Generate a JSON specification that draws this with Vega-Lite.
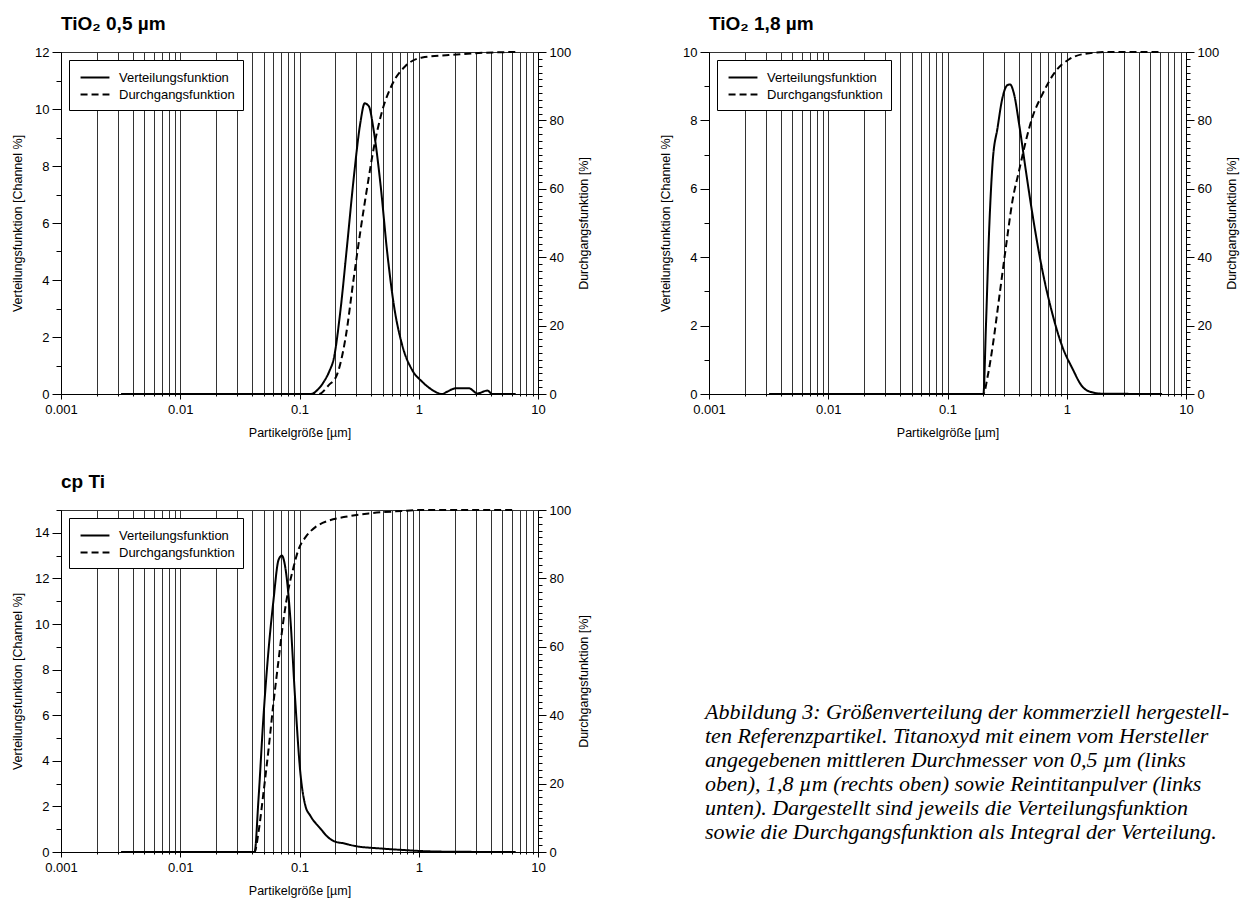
{
  "$schema": "https://vega.github.io/schema/vega-lite/v6.json",
  "padding": {"left": 11, "top": 14, "right": 5, "bottom": 5},
  "config": {
    "font": "Liberation Sans",
    "view": {"stroke": "#333", "strokeWidth": 1},
    "axis": {"labelFontSize": 13, "titleFontSize": 12.5, "titleFontWeight": "normal", "labelColor": "black", "titleColor": "black", "domainColor": "black", "tickColor": "black", "gridColor": "#333", "gridOpacity": 1, "gridWidth": 1, "labelFont": "Liberation Sans", "titleFont": "Liberation Sans"},
    "legend": {"strokeColor": "black", "fillColor": "white", "padding": 8, "labelFontSize": 13, "labelFont": "Liberation Sans", "labelColor": "black", "symbolType": "M-0.7,0H2.7", "symbolSize": 289, "symbolStrokeWidth": 2, "symbolStrokeColor": "black", "rowPadding": 0, "labelOffset": 23, "cornerRadius": 0, "offset": 8, "orient": "top-left"},
    "title": {"anchor": "start", "fontSize": 19, "fontWeight": "bold", "font": "Liberation Sans", "offset": 12, "color": "black", "frame": "group"}
  },
  "datasets": {
    "curves": [
      {"p": "A", "s": "Verteilungsfunktion", "x": 0.0032, "y": 0},
      {"p": "A", "s": "Verteilungsfunktion", "x": 0.125, "y": 0},
      {"p": "A", "s": "Verteilungsfunktion", "x": 0.142, "y": 0.15},
      {"p": "A", "s": "Verteilungsfunktion", "x": 0.16, "y": 0.43},
      {"p": "A", "s": "Verteilungsfunktion", "x": 0.178, "y": 0.8},
      {"p": "A", "s": "Verteilungsfunktion", "x": 0.194, "y": 1.25},
      {"p": "A", "s": "Verteilungsfunktion", "x": 0.22, "y": 2.9},
      {"p": "A", "s": "Verteilungsfunktion", "x": 0.251, "y": 5.24},
      {"p": "A", "s": "Verteilungsfunktion", "x": 0.285, "y": 7.58},
      {"p": "A", "s": "Verteilungsfunktion", "x": 0.324, "y": 9.52},
      {"p": "A", "s": "Verteilungsfunktion", "x": 0.352, "y": 10.2},
      {"p": "A", "s": "Verteilungsfunktion", "x": 0.381, "y": 10.1},
      {"p": "A", "s": "Verteilungsfunktion", "x": 0.42, "y": 9.22},
      {"p": "A", "s": "Verteilungsfunktion", "x": 0.478, "y": 7.35},
      {"p": "A", "s": "Verteilungsfunktion", "x": 0.543, "y": 5.0},
      {"p": "A", "s": "Verteilungsfunktion", "x": 0.618, "y": 3.13},
      {"p": "A", "s": "Verteilungsfunktion", "x": 0.726, "y": 1.72},
      {"p": "A", "s": "Verteilungsfunktion", "x": 0.881, "y": 0.84},
      {"p": "A", "s": "Verteilungsfunktion", "x": 1.069, "y": 0.43},
      {"p": "A", "s": "Verteilungsfunktion", "x": 1.3, "y": 0.14},
      {"p": "A", "s": "Verteilungsfunktion", "x": 1.57, "y": 0},
      {"p": "A", "s": "Verteilungsfunktion", "x": 1.73, "y": 0.08},
      {"p": "A", "s": "Verteilungsfunktion", "x": 2.04, "y": 0.2},
      {"p": "A", "s": "Verteilungsfunktion", "x": 2.64, "y": 0.2},
      {"p": "A", "s": "Verteilungsfunktion", "x": 3.1, "y": 0.02},
      {"p": "A", "s": "Verteilungsfunktion", "x": 3.76, "y": 0.12},
      {"p": "A", "s": "Verteilungsfunktion", "x": 4.14, "y": 0},
      {"p": "A", "s": "Verteilungsfunktion", "x": 6.5, "y": 0},
      {"p": "A", "s": "Durchgangsfunktion", "x": 0.0032, "y": 0},
      {"p": "A", "s": "Durchgangsfunktion", "x": 0.145, "y": 0},
      {"p": "A", "s": "Durchgangsfunktion", "x": 0.176, "y": 2.6},
      {"p": "A", "s": "Durchgangsfunktion", "x": 0.206, "y": 5.6},
      {"p": "A", "s": "Durchgangsfunktion", "x": 0.243, "y": 16.3},
      {"p": "A", "s": "Durchgangsfunktion", "x": 0.285, "y": 33.9},
      {"p": "A", "s": "Durchgangsfunktion", "x": 0.324, "y": 47.6},
      {"p": "A", "s": "Durchgangsfunktion", "x": 0.369, "y": 60.3},
      {"p": "A", "s": "Durchgangsfunktion", "x": 0.42, "y": 72},
      {"p": "A", "s": "Durchgangsfunktion", "x": 0.493, "y": 82.7},
      {"p": "A", "s": "Durchgangsfunktion", "x": 0.598, "y": 90.5},
      {"p": "A", "s": "Durchgangsfunktion", "x": 0.774, "y": 95.9},
      {"p": "A", "s": "Durchgangsfunktion", "x": 1.07, "y": 98.4},
      {"p": "A", "s": "Durchgangsfunktion", "x": 1.79, "y": 99.1},
      {"p": "A", "s": "Durchgangsfunktion", "x": 3.64, "y": 99.8},
      {"p": "A", "s": "Durchgangsfunktion", "x": 6.5, "y": 100},
      {"p": "B", "s": "Verteilungsfunktion", "x": 0.0032, "y": 0},
      {"p": "B", "s": "Verteilungsfunktion", "x": 0.2, "y": 0},
      {"p": "B", "s": "Verteilungsfunktion", "x": 0.21, "y": 1.97},
      {"p": "B", "s": "Verteilungsfunktion", "x": 0.224, "y": 4.88},
      {"p": "B", "s": "Verteilungsfunktion", "x": 0.239, "y": 6.77},
      {"p": "B", "s": "Verteilungsfunktion", "x": 0.263, "y": 7.79},
      {"p": "B", "s": "Verteilungsfunktion", "x": 0.289, "y": 8.66},
      {"p": "B", "s": "Verteilungsfunktion", "x": 0.318, "y": 9.03},
      {"p": "B", "s": "Verteilungsfunktion", "x": 0.335, "y": 9.05},
      {"p": "B", "s": "Verteilungsfunktion", "x": 0.362, "y": 8.76},
      {"p": "B", "s": "Verteilungsfunktion", "x": 0.399, "y": 7.88},
      {"p": "B", "s": "Verteilungsfunktion", "x": 0.454, "y": 6.53},
      {"p": "B", "s": "Verteilungsfunktion", "x": 0.515, "y": 5.27},
      {"p": "B", "s": "Verteilungsfunktion", "x": 0.624, "y": 3.62},
      {"p": "B", "s": "Verteilungsfunktion", "x": 0.756, "y": 2.36},
      {"p": "B", "s": "Verteilungsfunktion", "x": 0.917, "y": 1.39},
      {"p": "B", "s": "Verteilungsfunktion", "x": 1.11, "y": 0.76},
      {"p": "B", "s": "Verteilungsfunktion", "x": 1.35, "y": 0.22},
      {"p": "B", "s": "Verteilungsfunktion", "x": 1.63, "y": 0.05},
      {"p": "B", "s": "Verteilungsfunktion", "x": 1.98, "y": 0.01},
      {"p": "B", "s": "Verteilungsfunktion", "x": 6.3, "y": 0},
      {"p": "B", "s": "Durchgangsfunktion", "x": 0.0032, "y": 0},
      {"p": "B", "s": "Durchgangsfunktion", "x": 0.2, "y": 0},
      {"p": "B", "s": "Durchgangsfunktion", "x": 0.217, "y": 5.1},
      {"p": "B", "s": "Durchgangsfunktion", "x": 0.239, "y": 13.9},
      {"p": "B", "s": "Durchgangsfunktion", "x": 0.272, "y": 28.5},
      {"p": "B", "s": "Durchgangsfunktion", "x": 0.309, "y": 43},
      {"p": "B", "s": "Durchgangsfunktion", "x": 0.351, "y": 56.6},
      {"p": "B", "s": "Durchgangsfunktion", "x": 0.399, "y": 65.4},
      {"p": "B", "s": "Durchgangsfunktion", "x": 0.454, "y": 74},
      {"p": "B", "s": "Durchgangsfunktion", "x": 0.515, "y": 80.9},
      {"p": "B", "s": "Durchgangsfunktion", "x": 0.624, "y": 87.6},
      {"p": "B", "s": "Durchgangsfunktion", "x": 0.807, "y": 94.4},
      {"p": "B", "s": "Durchgangsfunktion", "x": 1.04, "y": 97.8},
      {"p": "B", "s": "Durchgangsfunktion", "x": 1.44, "y": 99.5},
      {"p": "B", "s": "Durchgangsfunktion", "x": 2.3, "y": 100},
      {"p": "B", "s": "Durchgangsfunktion", "x": 6.3, "y": 100},
      {"p": "C", "s": "Verteilungsfunktion", "x": 0.0032, "y": 0},
      {"p": "C", "s": "Verteilungsfunktion", "x": 0.042, "y": 0},
      {"p": "C", "s": "Verteilungsfunktion", "x": 0.0453, "y": 2.32},
      {"p": "C", "s": "Verteilungsfunktion", "x": 0.0499, "y": 5.96},
      {"p": "C", "s": "Verteilungsfunktion", "x": 0.055, "y": 8.86},
      {"p": "C", "s": "Verteilungsfunktion", "x": 0.0605, "y": 11.04},
      {"p": "C", "s": "Verteilungsfunktion", "x": 0.0667, "y": 12.81},
      {"p": "C", "s": "Verteilungsfunktion", "x": 0.0711, "y": 13.0},
      {"p": "C", "s": "Verteilungsfunktion", "x": 0.0759, "y": 12.5},
      {"p": "C", "s": "Verteilungsfunktion", "x": 0.0836, "y": 10.32},
      {"p": "C", "s": "Verteilungsfunktion", "x": 0.092, "y": 6.69},
      {"p": "C", "s": "Verteilungsfunktion", "x": 0.1016, "y": 3.49},
      {"p": "C", "s": "Verteilungsfunktion", "x": 0.112, "y": 2.03},
      {"p": "C", "s": "Verteilungsfunktion", "x": 0.123, "y": 1.6},
      {"p": "C", "s": "Verteilungsfunktion", "x": 0.15, "y": 1.02},
      {"p": "C", "s": "Verteilungsfunktion", "x": 0.176, "y": 0.62},
      {"p": "C", "s": "Verteilungsfunktion", "x": 0.2, "y": 0.45},
      {"p": "C", "s": "Verteilungsfunktion", "x": 0.235, "y": 0.38},
      {"p": "C", "s": "Verteilungsfunktion", "x": 0.294, "y": 0.26},
      {"p": "C", "s": "Verteilungsfunktion", "x": 0.462, "y": 0.16},
      {"p": "C", "s": "Verteilungsfunktion", "x": 0.726, "y": 0.09},
      {"p": "C", "s": "Verteilungsfunktion", "x": 1.07, "y": 0.04},
      {"p": "C", "s": "Verteilungsfunktion", "x": 2.0, "y": 0.01},
      {"p": "C", "s": "Verteilungsfunktion", "x": 6.5, "y": 0},
      {"p": "C", "s": "Durchgangsfunktion", "x": 0.0032, "y": 0},
      {"p": "C", "s": "Durchgangsfunktion", "x": 0.042, "y": 0},
      {"p": "C", "s": "Durchgangsfunktion", "x": 0.0453, "y": 5.8},
      {"p": "C", "s": "Durchgangsfunktion", "x": 0.0499, "y": 17.4},
      {"p": "C", "s": "Durchgangsfunktion", "x": 0.055, "y": 30},
      {"p": "C", "s": "Durchgangsfunktion", "x": 0.0605, "y": 43.6},
      {"p": "C", "s": "Durchgangsfunktion", "x": 0.0667, "y": 56},
      {"p": "C", "s": "Durchgangsfunktion", "x": 0.0735, "y": 68},
      {"p": "C", "s": "Durchgangsfunktion", "x": 0.081, "y": 77},
      {"p": "C", "s": "Durchgangsfunktion", "x": 0.0892, "y": 83.3},
      {"p": "C", "s": "Durchgangsfunktion", "x": 0.0975, "y": 88.2},
      {"p": "C", "s": "Durchgangsfunktion", "x": 0.112, "y": 92},
      {"p": "C", "s": "Durchgangsfunktion", "x": 0.136, "y": 95},
      {"p": "C", "s": "Durchgangsfunktion", "x": 0.176, "y": 96.9},
      {"p": "C", "s": "Durchgangsfunktion", "x": 0.243, "y": 98},
      {"p": "C", "s": "Durchgangsfunktion", "x": 0.381, "y": 99},
      {"p": "C", "s": "Durchgangsfunktion", "x": 0.638, "y": 99.6},
      {"p": "C", "s": "Durchgangsfunktion", "x": 1.07, "y": 100},
      {"p": "C", "s": "Durchgangsfunktion", "x": 6.5, "y": 100}
    ]
  },
  "columns": 2,
  "spacing": {"row": 33, "column": 68},
  "resolve": {"scale": {"strokeDash": "independent"}, "legend": {"strokeDash": "independent"}},
  "concat": [
    {
      "title": {"text": "TiO₂ 0,5 µm"},
      "width": 477, "height": 342,
      "data": {"name": "curves"},
      "transform": [{"filter": "datum.p == 'A'"}],
      "encoding": {
        "x": {"field": "x", "type": "quantitative", "scale": {"type": "log", "domain": [0.001, 10], "nice": false},
          "axis": {"title": "Partikelgröße [µm]", "grid": true, "format": "~g", "labelOverlap": false, "labelFlush": false, "labelPadding": 4, "titlePadding": 10,
            "values": [0.001,0.002,0.003,0.004,0.005,0.006,0.007,0.008,0.009,0.01,0.02,0.03,0.04,0.05,0.06,0.07,0.08,0.09,0.1,0.2,0.3,0.4,0.5,0.6,0.7,0.8,0.9,1,2,3,4,5,6,7,8,9,10],
            "labelExpr": "indexof([0.001,0.01,0.1,1,10], datum.value) >= 0 ? datum.label : ''",
            "tickSize": {"condition": {"test": "indexof([0.001,0.01,0.1,1,10], datum.value) >= 0", "value": 5}, "value": 2}}},
        "strokeDash": {"field": "s", "type": "nominal", "scale": {"domain": ["Verteilungsfunktion", "Durchgangsfunktion"], "range": [[1, 0], [7, 4]]}, "legend": {"title": null}}
      },
      "layer": [
        {
          "transform": [{"filter": "datum.s == 'Verteilungsfunktion'"}],
          "mark": {"type": "line", "color": "black", "strokeWidth": 2, "interpolate": "monotone"},
          "encoding": {"y": {"field": "y", "type": "quantitative", "scale": {"domain": [0, 12], "nice": false},
            "axis": {"title": "Verteilungsfunktion [Channel %]", "orient": "left", "grid": false, "values": [0,1,2,3,4,5,6,7,8,9,10,11,12], "labelPadding": 3, "titlePadding": 10,
              "labelExpr": "datum.value % 2 == 0 ? datum.label : ''",
              "tickSize": {"condition": {"test": "datum.value % 2 == 0", "value": 9}, "value": 5}}}}
        },
        {
          "transform": [{"filter": "datum.s == 'Durchgangsfunktion'"}],
          "mark": {"type": "line", "color": "black", "strokeWidth": 2, "interpolate": "monotone"},
          "encoding": {"y": {"field": "y", "type": "quantitative", "scale": {"domain": [0, 100], "nice": false},
            "axis": {"title": "Durchgangsfunktion [%]", "orient": "right", "titleAngle": 270, "grid": false, "values": [0,2,4,6,8,10,12,14,16,18,20,22,24,26,28,30,32,34,36,38,40,42,44,46,48,50,52,54,56,58,60,62,64,66,68,70,72,74,76,78,80,82,84,86,88,90,92,94,96,98,100], "labelPadding": 3, "titlePadding": 20,
              "labelExpr": "datum.value % 20 == 0 ? datum.label : ''",
              "tickSize": {"condition": {"test": "datum.value % 20 == 0", "value": 8}, "value": 4}}}}
        }
      ],
      "resolve": {"scale": {"y": "independent"}}
    },
    {
      "title": {"text": "TiO₂ 1,8 µm"},
      "width": 477, "height": 342,
      "data": {"name": "curves"},
      "transform": [{"filter": "datum.p == 'B'"}],
      "encoding": {
        "x": {"field": "x", "type": "quantitative", "scale": {"type": "log", "domain": [0.001, 10], "nice": false},
          "axis": {"title": "Partikelgröße [µm]", "grid": true, "format": "~g", "labelOverlap": false, "labelFlush": false, "labelPadding": 4, "titlePadding": 10,
            "values": [0.001,0.002,0.003,0.004,0.005,0.006,0.007,0.008,0.009,0.01,0.02,0.03,0.04,0.05,0.06,0.07,0.08,0.09,0.1,0.2,0.3,0.4,0.5,0.6,0.7,0.8,0.9,1,2,3,4,5,6,7,8,9,10],
            "labelExpr": "indexof([0.001,0.01,0.1,1,10], datum.value) >= 0 ? datum.label : ''",
            "tickSize": {"condition": {"test": "indexof([0.001,0.01,0.1,1,10], datum.value) >= 0", "value": 5}, "value": 2}}},
        "strokeDash": {"field": "s", "type": "nominal", "scale": {"domain": ["Verteilungsfunktion", "Durchgangsfunktion"], "range": [[1, 0], [7, 4]]}, "legend": {"title": null}}
      },
      "layer": [
        {
          "transform": [{"filter": "datum.s == 'Verteilungsfunktion'"}],
          "mark": {"type": "line", "color": "black", "strokeWidth": 2, "interpolate": "monotone"},
          "encoding": {"y": {"field": "y", "type": "quantitative", "scale": {"domain": [0, 10], "nice": false},
            "axis": {"title": "Verteilungsfunktion [Channel %]", "orient": "left", "grid": false, "values": [0,1,2,3,4,5,6,7,8,9,10], "labelPadding": 3, "titlePadding": 10,
              "labelExpr": "datum.value % 2 == 0 ? datum.label : ''",
              "tickSize": {"condition": {"test": "datum.value % 2 == 0", "value": 9}, "value": 5}}}}
        },
        {
          "transform": [{"filter": "datum.s == 'Durchgangsfunktion'"}],
          "mark": {"type": "line", "color": "black", "strokeWidth": 2, "interpolate": "monotone"},
          "encoding": {"y": {"field": "y", "type": "quantitative", "scale": {"domain": [0, 100], "nice": false},
            "axis": {"title": "Durchgangsfunktion [%]", "orient": "right", "titleAngle": 270, "grid": false, "values": [0,2,4,6,8,10,12,14,16,18,20,22,24,26,28,30,32,34,36,38,40,42,44,46,48,50,52,54,56,58,60,62,64,66,68,70,72,74,76,78,80,82,84,86,88,90,92,94,96,98,100], "labelPadding": 3, "titlePadding": 20,
              "labelExpr": "datum.value % 20 == 0 ? datum.label : ''",
              "tickSize": {"condition": {"test": "datum.value % 20 == 0", "value": 8}, "value": 4}}}}
        }
      ],
      "resolve": {"scale": {"y": "independent"}}
    },
    {
      "title": {"text": "cp Ti"},
      "width": 477, "height": 342,
      "data": {"name": "curves"},
      "transform": [{"filter": "datum.p == 'C'"}],
      "encoding": {
        "x": {"field": "x", "type": "quantitative", "scale": {"type": "log", "domain": [0.001, 10], "nice": false},
          "axis": {"title": "Partikelgröße [µm]", "grid": true, "format": "~g", "labelOverlap": false, "labelFlush": false, "labelPadding": 4, "titlePadding": 10,
            "values": [0.001,0.002,0.003,0.004,0.005,0.006,0.007,0.008,0.009,0.01,0.02,0.03,0.04,0.05,0.06,0.07,0.08,0.09,0.1,0.2,0.3,0.4,0.5,0.6,0.7,0.8,0.9,1,2,3,4,5,6,7,8,9,10],
            "labelExpr": "indexof([0.001,0.01,0.1,1,10], datum.value) >= 0 ? datum.label : ''",
            "tickSize": {"condition": {"test": "indexof([0.001,0.01,0.1,1,10], datum.value) >= 0", "value": 5}, "value": 2}}},
        "strokeDash": {"field": "s", "type": "nominal", "scale": {"domain": ["Verteilungsfunktion", "Durchgangsfunktion"], "range": [[1, 0], [7, 4]]}, "legend": {"title": null}}
      },
      "layer": [
        {
          "transform": [{"filter": "datum.s == 'Verteilungsfunktion'"}],
          "mark": {"type": "line", "color": "black", "strokeWidth": 2, "interpolate": "monotone"},
          "encoding": {"y": {"field": "y", "type": "quantitative", "scale": {"domain": [0, 15], "nice": false},
            "axis": {"title": "Verteilungsfunktion [Channel %]", "orient": "left", "grid": false, "values": [0,1,2,3,4,5,6,7,8,9,10,11,12,13,14,15], "labelPadding": 3, "titlePadding": 10,
              "labelExpr": "datum.value % 2 == 0 ? datum.label : ''",
              "tickSize": {"condition": {"test": "datum.value % 2 == 0", "value": 9}, "value": 5}}}}
        },
        {
          "transform": [{"filter": "datum.s == 'Durchgangsfunktion'"}],
          "mark": {"type": "line", "color": "black", "strokeWidth": 2, "interpolate": "monotone"},
          "encoding": {"y": {"field": "y", "type": "quantitative", "scale": {"domain": [0, 100], "nice": false},
            "axis": {"title": "Durchgangsfunktion [%]", "orient": "right", "titleAngle": 270, "grid": false, "values": [0,2,4,6,8,10,12,14,16,18,20,22,24,26,28,30,32,34,36,38,40,42,44,46,48,50,52,54,56,58,60,62,64,66,68,70,72,74,76,78,80,82,84,86,88,90,92,94,96,98,100], "labelPadding": 3, "titlePadding": 20,
              "labelExpr": "datum.value % 20 == 0 ? datum.label : ''",
              "tickSize": {"condition": {"test": "datum.value % 20 == 0", "value": 8}, "value": 4}}}}
        }
      ],
      "resolve": {"scale": {"y": "independent"}}
    },
    {
      "width": 540, "height": 342,
      "view": {"stroke": null},
      "data": {"values": [
        {"line": 1, "text": "Abbildung 3: Größenverteilung der kommerziell hergestell-"},
        {"line": 2, "text": "ten Referenzpartikel. Titanoxyd mit einem vom Hersteller"},
        {"line": 3, "text": "angegebenen mittleren Durchmesser von 0,5 µm (links"},
        {"line": 4, "text": "oben), 1,8 µm (rechts oben) sowie Reintitanpulver (links"},
        {"line": 5, "text": "unten). Dargestellt sind jeweils die Verteilungsfunktion"},
        {"line": 6, "text": "sowie die Durchgangsfunktion als Integral der Verteilung."}
      ]},
      "mark": {"type": "text", "align": "left", "baseline": "middle", "font": "Liberation Serif", "fontStyle": "italic", "fontSize": 22, "color": "black"},
      "encoding": {
        "x": {"datum": -4, "type": "quantitative", "scale": {"domain": [0, 540], "nice": false, "zero": false}, "axis": null},
        "y": {"field": "line", "type": "quantitative", "scale": {"domain": [-7.42, 6.83], "reverse": true, "nice": false, "zero": false}, "axis": null},
        "text": {"field": "text"}
      }
    }
  ]
}
